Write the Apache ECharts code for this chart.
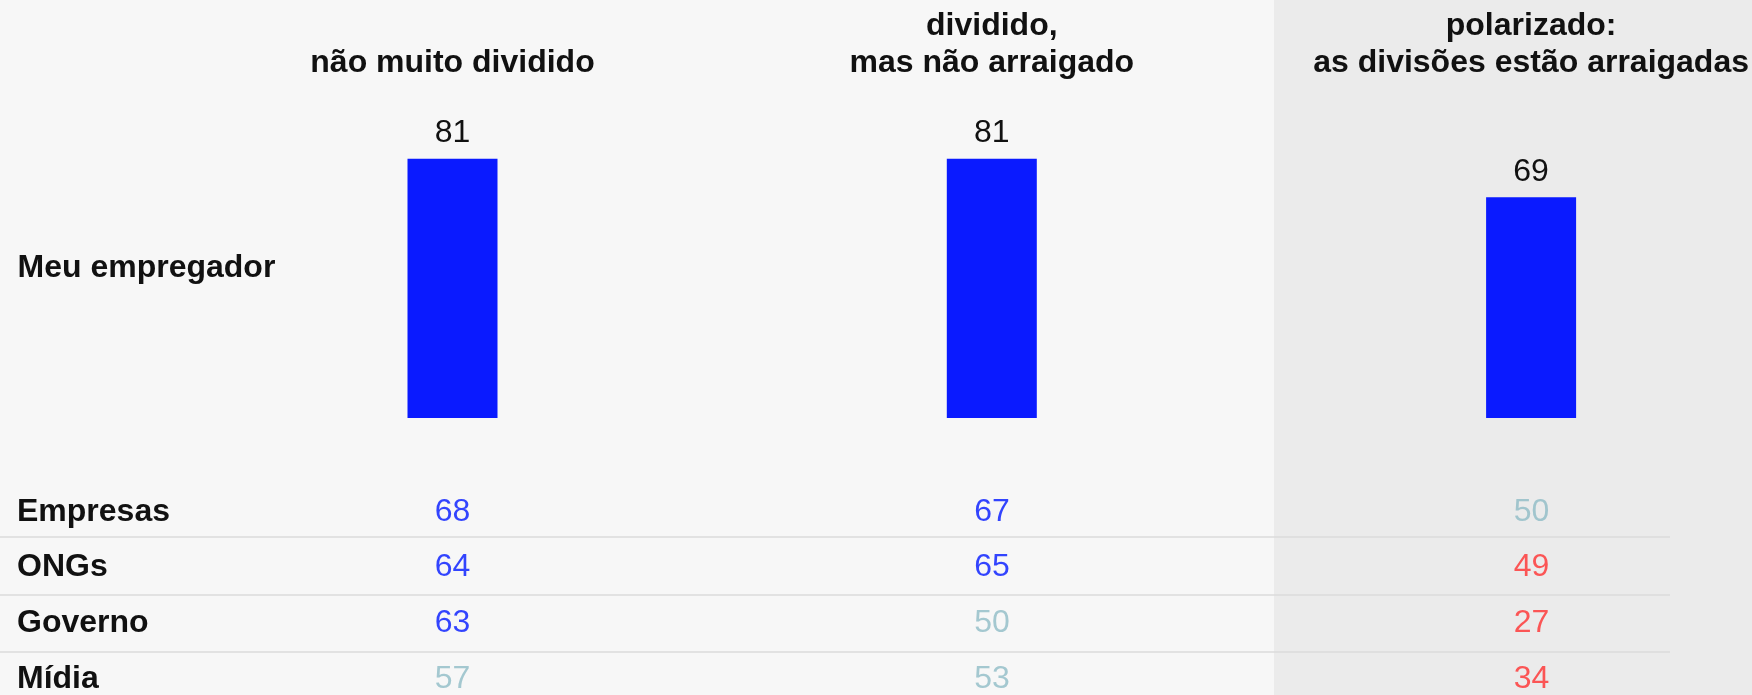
<!DOCTYPE html>
<html>
<head>
<meta charset="utf-8">
<script src="https://cdn.jsdelivr.net/npm/echarts@6/dist/echarts.min.js"></script>
<style>
  html, body { margin: 0; padding: 0; background: #f7f7f7; }
  #chart { width: 1752px; height: 695px; }
</style>
</head>
<body>
<div id="chart"></div>
<script>
// colunas: quão dividido o país está
var columns = ['não muito dividido', 'dividido,\nmas não arraigado', 'polarizado:\nas divisões estão arraigadas'];
var barLabel = 'Meu empregador';
var employer = [81, 81, 69];

// linhas da tabela
var rows = ['Empresas', 'ONGs', 'Governo', 'Mídia'];
var empresas = [68, 67, 50];
var ongs = [64, 65, 49];
var governo = [63, 50, 27];
var midia = [57, 53, 34];

var FONT = '"Liberation Sans", Arial, Helvetica, sans-serif';
var BLUE = '#0a1aff';

function trustColor(v) {
  if (v >= 60) return '#0016ff';
  if (v >= 50) return '#8fbcc5';
  return '#ff3030';
}

var tableRows = [empresas, ongs, governo, midia];
var cells = [];
tableRows.forEach(function (vals, r) {
  vals.forEach(function (v, c) {
    cells.push({ value: [c, r, v], label: { color: trustColor(v) } });
  });
});

var chart = echarts.init(document.getElementById('chart'));
var option = {
  backgroundColor: '#f7f7f7',
  animation: false,
  textStyle: { fontFamily: FONT },
  graphic: [{
    type: 'rect',
    z: -10,
    silent: true,
    shape: { x: 1274, y: 0, width: 478, height: 695 },
    style: { fill: '#ebebeb' }
  }],
  grid: [
    { left: 452.5, width: 1079, top: 118, height: 300 },
    { left: 452.5, width: 1079, top: 512, height: 172.8 },
    { left: 0, width: 1670, top: 508, height: 172.8 }
  ],
  xAxis: [
    {
      gridIndex: 0, type: 'category', position: 'top', data: columns, boundaryGap: false,
      axisLine: { show: false }, axisTick: { show: false }, splitLine: { show: false },
      axisLabel: {
        interval: 0, margin: 36, fontSize: 32, fontWeight: 'bold',
        lineHeight: 37, color: '#111', fontFamily: FONT
      }
    },
    { gridIndex: 1, type: 'category', data: columns, boundaryGap: false, show: false },
    { gridIndex: 2, type: 'value', show: false }
  ],
  yAxis: [
    {
      gridIndex: 0, type: 'value', min: 0, max: 93.75,
      axisLine: { show: false }, axisTick: { show: false },
      axisLabel: { show: false }, splitLine: { show: false },
      name: barLabel, nameLocation: 'middle', nameGap: 435, nameRotate: 0,
      nameTextStyle: {
        align: 'left', verticalAlign: 'middle', fontSize: 32, fontWeight: 'bold',
        color: '#111', fontFamily: FONT
      }
    },
    {
      gridIndex: 1, type: 'category', data: rows, inverse: true, boundaryGap: false,
      axisLine: { show: false }, axisTick: { show: false }, splitLine: { show: false },
      axisLabel: {
        align: 'left', margin: 435.5, fontSize: 32, fontWeight: 'bold',
        color: '#111', fontFamily: FONT
      }
    },
    {
      // linhas separadoras entre as linhas da tabela
      gridIndex: 2, type: 'value', inverse: true,
      min: 0, max: 3, interval: 1,
      axisLine: { show: false }, axisTick: { show: false }, axisLabel: { show: false },
      splitLine: { show: false },
      minorTick: { show: false, splitNumber: 2 },
      minorSplitLine: { show: true, lineStyle: { color: '#dcdcdc', width: 1.5 } }
    }
  ],
  series: [
    {
      type: 'bar', xAxisIndex: 0, yAxisIndex: 0,
      data: employer, barWidth: 90,
      itemStyle: { color: BLUE },
      label: { show: true, position: 'top', distance: 9.5, fontSize: 32, color: '#111', fontFamily: FONT }
    },
    {
      type: 'scatter', xAxisIndex: 1, yAxisIndex: 1,
      symbolSize: 0, data: cells,
      label: {
        show: true, position: 'inside', fontSize: 32, fontFamily: FONT,
        formatter: function (p) { return p.value[2]; }
      }
    }
  ]
};
chart.setOption(option);
</script>
</body>
</html>
